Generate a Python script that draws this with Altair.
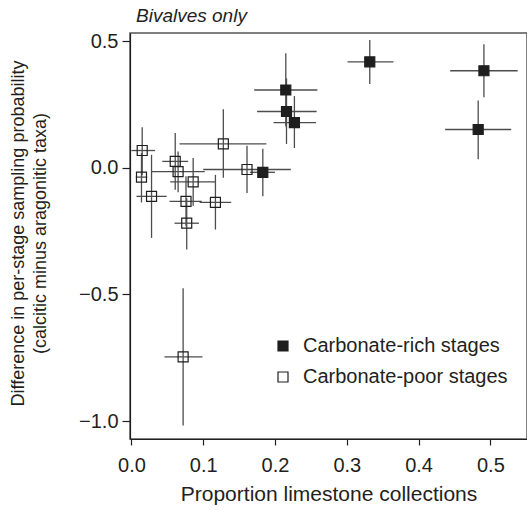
import altair as alt
import pandas as pd

# Carbonate-rich stages (filled)
rich_x = [0.332, 0.491, 0.483, 0.215, 0.216, 0.227, 0.183]
rich_y = [0.418, 0.383, 0.151, 0.307, 0.222, 0.178, -0.018]
rich_xlo = [0.301, 0.444, 0.437, 0.171, 0.175, 0.198, 0.165]
rich_xhi = [0.365, 0.538, 0.529, 0.259, 0.258, 0.257, 0.200]
rich_ylo = [0.331, 0.278, 0.034, 0.163, 0.094, 0.078, -0.113]
rich_yhi = [0.504, 0.488, 0.265, 0.452, 0.353, 0.283, 0.075]

# Carbonate-poor stages (open)
poor_x = [0.015, 0.014, 0.028, 0.061, 0.065, 0.086, 0.076, 0.077, 0.117, 0.128, 0.161, 0.072]
poor_y = [0.068, -0.037, -0.113, 0.025, -0.015, -0.056, -0.133, -0.219, -0.137, 0.094, -0.007, -0.747]
poor_xlo = [0.000, 0.006, 0.007, 0.043, 0.028, 0.054, 0.053, 0.060, 0.095, 0.067, 0.100, 0.046]
poor_xhi = [0.033, 0.022, 0.049, 0.079, 0.102, 0.117, 0.098, 0.094, 0.139, 0.188, 0.222, 0.099]
poor_ylo = [-0.030, -0.137, -0.277, -0.087, -0.097, -0.150, -0.231, -0.323, -0.244, -0.040, -0.100, -1.018]
poor_yhi = [0.160, 0.058, 0.051, 0.137, 0.064, 0.038, -0.034, -0.120, -0.028, 0.231, 0.087, -0.476]

groups = ["Carbonate-rich stages", "Carbonate-poor stages"]
x_ticks = [0.0, 0.1, 0.2, 0.3, 0.4, 0.5]
y_ticks = [-1.0, -0.5, 0.0, 0.5]

df = pd.concat([
    pd.DataFrame({"x": rich_x, "y": rich_y, "xlo": rich_xlo, "xhi": rich_xhi,
                  "ylo": rich_ylo, "yhi": rich_yhi, "group": groups[0]}),
    pd.DataFrame({"x": poor_x, "y": poor_y, "xlo": poor_xlo, "xhi": poor_xhi,
                  "ylo": poor_ylo, "yhi": poor_yhi, "group": groups[1]}),
], ignore_index=True)

FONT = "Liberation Sans"
INK = "#231f20"

xscale = alt.Scale(domain=[-0.002, 0.551], nice=False, zero=False)
yscale = alt.Scale(domain=[-1.071, 0.532], nice=False, zero=False)

xaxis = alt.Axis(title="Proportion limestone collections", values=x_ticks, format=".1f",
                 grid=False, tickSize=6, labelPadding=10, titlePadding=8,
                 labelFontSize=20, titleFontSize=21)
yaxis = alt.Axis(title=["Difference in per-stage sampling probability",
                        "(calcitic minus aragonitic taxa)"],
                 values=y_ticks, format=".1f", grid=False, tickSize=8, labelPadding=4,
                 labelFontSize=20, titleFontSize=18, titleLineHeight=22,
                 titleX=-121, titleY=200, titleBaseline="top", titleAlign="center",
                 titleAngle=-90)

base = alt.Chart(df)

hbars = base.mark_rule(color="#4d4d4d", strokeWidth=1.3).encode(
    x=alt.X("xlo:Q", scale=xscale, axis=xaxis),
    x2="xhi:Q",
    y=alt.Y("y:Q", scale=yscale, axis=yaxis),
)
vbars = base.mark_rule(color="#4d4d4d", strokeWidth=1.3).encode(
    x=alt.X("x:Q", scale=xscale),
    y=alt.Y("ylo:Q", scale=yscale),
    y2="yhi:Q",
)
points = base.mark_square(size=100, filled=True, stroke="#1e1e1e", strokeWidth=1.2,
                          opacity=1).encode(
    x=alt.X("x:Q", scale=xscale),
    y=alt.Y("y:Q", scale=yscale),
    fill=alt.Fill("group:N",
                  scale=alt.Scale(domain=groups, range=["#1e1e1e", "transparent"]),
                  legend=alt.Legend(title=None, orient="none", legendX=143, legendY=303,
                                    symbolType="square", symbolSize=100,
                                    symbolStrokeColor="#1e1e1e", symbolStrokeWidth=1.2,
                                    labelFontSize=20, labelFont=FONT, labelColor=INK,
                                    labelOffset=10, rowPadding=11, padding=0,
                                    labelLimit=0)),
)

chart = alt.layer(hbars, vbars, points).properties(
    width=397, height=406,
    autosize=alt.AutoSizeParams(type="none"),
    padding={"left": 130, "top": 33, "right": 0, "bottom": 71},
    title=alt.TitleParams("Bivalves only", anchor="start", frame="group", dx=6, offset=5,
                          fontSize=19, fontStyle="italic", fontWeight="normal",
                          font=FONT, color=INK),
).configure_view(
    stroke="#555555", strokeWidth=1.5
).configure_axis(
    labelFont=FONT, titleFont=FONT, labelColor=INK, titleColor=INK,
    titleFontWeight="normal", domainColor="#231f20", tickColor="#231f20",
    domainWidth=1.2, tickWidth=1.2
)

chart.save("out.html", embed_options={"renderer": "svg", "actions": False})
